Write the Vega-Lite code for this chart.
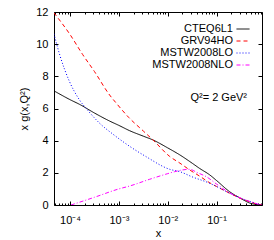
{
  "$schema": "https://vega.github.io/schema/vega-lite/v6.json",
  "width": 208,
  "height": 193,
  "autosize": {"type": "none"},
  "padding": {"left": 54, "top": 12, "right": 12, "bottom": 35},
  "config": {
    "font": "Liberation Sans",
    "view": {"stroke": "#000000", "strokeWidth": 1},
    "axis": {"domain": false, "grid": false, "labelFont": "Liberation Sans", "labelFontSize": 11, "labelColor": "#000000", "titleFont": "Liberation Sans", "titleFontSize": 11, "titleFontWeight": "normal", "titleColor": "#000000", "tickColor": "#000000", "tickWidth": 1, "labelFlush": false, "labelOverlap": false, "labelBound": false},
    "legend": {"labelFont": "Liberation Sans", "titleFont": "Liberation Sans"}
  },
  "data": {"values": [
    {"pdf": "CTEQ6L1", "x": 4.68e-5, "g": 7.1},
    {"pdf": "CTEQ6L1", "x": 1e-4, "g": 6.55},
    {"pdf": "CTEQ6L1", "x": 1.585e-4, "g": 6.25},
    {"pdf": "CTEQ6L1", "x": 3.162e-4, "g": 5.72},
    {"pdf": "CTEQ6L1", "x": 6.457e-4, "g": 5.22},
    {"pdf": "CTEQ6L1", "x": 1e-3, "g": 4.95},
    {"pdf": "CTEQ6L1", "x": 1.66e-3, "g": 4.62},
    {"pdf": "CTEQ6L1", "x": 3.162e-3, "g": 4.28},
    {"pdf": "CTEQ6L1", "x": 5.012e-3, "g": 4.04},
    {"pdf": "CTEQ6L1", "x": 0.01, "g": 3.55},
    {"pdf": "CTEQ6L1", "x": 0.01778, "g": 3.11},
    {"pdf": "CTEQ6L1", "x": 0.03162, "g": 2.6},
    {"pdf": "CTEQ6L1", "x": 0.04467, "g": 2.28},
    {"pdf": "CTEQ6L1", "x": 0.07244, "g": 1.87},
    {"pdf": "CTEQ6L1", "x": 0.1, "g": 1.52},
    {"pdf": "CTEQ6L1", "x": 0.1862, "g": 0.82},
    {"pdf": "CTEQ6L1", "x": 0.3162, "g": 0.4},
    {"pdf": "CTEQ6L1", "x": 0.4786, "g": 0.12},
    {"pdf": "CTEQ6L1", "x": 0.7079, "g": 0.02},
    {"pdf": "CTEQ6L1", "x": 0.85, "g": 0.0},
    {"pdf": "GRV94HO", "x": 4.68e-5, "g": 11.95},
    {"pdf": "GRV94HO", "x": 1e-4, "g": 10.6},
    {"pdf": "GRV94HO", "x": 1.82e-4, "g": 9.35},
    {"pdf": "GRV94HO", "x": 3.162e-4, "g": 8.3},
    {"pdf": "GRV94HO", "x": 6.457e-4, "g": 6.84},
    {"pdf": "GRV94HO", "x": 8.913e-4, "g": 6.32},
    {"pdf": "GRV94HO", "x": 1.585e-3, "g": 5.45},
    {"pdf": "GRV94HO", "x": 3.162e-3, "g": 4.6},
    {"pdf": "GRV94HO", "x": 5.012e-3, "g": 4.04},
    {"pdf": "GRV94HO", "x": 0.01096, "g": 3.02},
    {"pdf": "GRV94HO", "x": 0.01778, "g": 2.6},
    {"pdf": "GRV94HO", "x": 0.02818, "g": 2.18},
    {"pdf": "GRV94HO", "x": 0.04467, "g": 1.8},
    {"pdf": "GRV94HO", "x": 0.07244, "g": 1.38},
    {"pdf": "GRV94HO", "x": 0.1, "g": 1.15},
    {"pdf": "GRV94HO", "x": 0.1862, "g": 0.73},
    {"pdf": "GRV94HO", "x": 0.3162, "g": 0.4},
    {"pdf": "GRV94HO", "x": 0.5012, "g": 0.18},
    {"pdf": "GRV94HO", "x": 0.7079, "g": 0.04},
    {"pdf": "GRV94HO", "x": 0.85, "g": 0.0},
    {"pdf": "MSTW2008LO", "x": 4.68e-5, "g": 10.65},
    {"pdf": "MSTW2008LO", "x": 6.17e-5, "g": 9.33},
    {"pdf": "MSTW2008LO", "x": 9.77e-5, "g": 7.67},
    {"pdf": "MSTW2008LO", "x": 1.549e-4, "g": 6.55},
    {"pdf": "MSTW2008LO", "x": 2.291e-4, "g": 5.9},
    {"pdf": "MSTW2008LO", "x": 3.981e-4, "g": 5.1},
    {"pdf": "MSTW2008LO", "x": 7.586e-4, "g": 4.4},
    {"pdf": "MSTW2008LO", "x": 1.66e-3, "g": 3.65},
    {"pdf": "MSTW2008LO", "x": 3.631e-3, "g": 3.0},
    {"pdf": "MSTW2008LO", "x": 0.01096, "g": 2.22},
    {"pdf": "MSTW2008LO", "x": 0.01778, "g": 2.07},
    {"pdf": "MSTW2008LO", "x": 0.03162, "g": 1.75},
    {"pdf": "MSTW2008LO", "x": 0.07244, "g": 1.35},
    {"pdf": "MSTW2008LO", "x": 0.1, "g": 1.15},
    {"pdf": "MSTW2008LO", "x": 0.1862, "g": 0.73},
    {"pdf": "MSTW2008LO", "x": 0.3162, "g": 0.42},
    {"pdf": "MSTW2008LO", "x": 0.5012, "g": 0.2},
    {"pdf": "MSTW2008LO", "x": 0.7079, "g": 0.05},
    {"pdf": "MSTW2008LO", "x": 0.85, "g": 0.0},
    {"pdf": "MSTW2008NLO", "x": 1.047e-4, "g": 0.0},
    {"pdf": "MSTW2008NLO", "x": 3.162e-4, "g": 0.48},
    {"pdf": "MSTW2008NLO", "x": 1e-3, "g": 1.0},
    {"pdf": "MSTW2008NLO", "x": 1.66e-3, "g": 1.18},
    {"pdf": "MSTW2008NLO", "x": 4.266e-3, "g": 1.6},
    {"pdf": "MSTW2008NLO", "x": 0.01, "g": 1.95},
    {"pdf": "MSTW2008NLO", "x": 0.0138, "g": 2.07},
    {"pdf": "MSTW2008NLO", "x": 0.01995, "g": 2.18},
    {"pdf": "MSTW2008NLO", "x": 0.02818, "g": 2.22},
    {"pdf": "MSTW2008NLO", "x": 0.03981, "g": 2.02},
    {"pdf": "MSTW2008NLO", "x": 0.06166, "g": 1.76},
    {"pdf": "MSTW2008NLO", "x": 0.1, "g": 1.3},
    {"pdf": "MSTW2008NLO", "x": 0.1862, "g": 0.75},
    {"pdf": "MSTW2008NLO", "x": 0.3162, "g": 0.42},
    {"pdf": "MSTW2008NLO", "x": 0.5012, "g": 0.2},
    {"pdf": "MSTW2008NLO", "x": 0.7079, "g": 0.05},
    {"pdf": "MSTW2008NLO", "x": 0.85, "g": 0.0}
  ]},
  "layer": [
    {
      "mark": {"type": "line", "strokeWidth": 1, "interpolate": "monotone", "clip": true},
      "encoding": {
        "x": {"field": "x", "type": "quantitative",
          "scale": {"type": "log", "domain": [4.7e-5, 0.85], "nice": false},
          "axis": {"orient": "bottom", "title": "x", "titlePadding": 0,
            "values": [5e-5, 6e-5, 7e-5, 8e-5, 9e-5, 1e-4, 2e-4, 3e-4, 4e-4, 5e-4, 6e-4, 7e-4, 8e-4, 9e-4, 0.001, 0.002, 0.003, 0.004, 0.005, 0.006, 0.007, 0.008, 0.009, 0.01, 0.02, 0.03, 0.04, 0.05, 0.06, 0.07, 0.08, 0.09, 0.1, 0.2, 0.3, 0.4, 0.5, 0.6, 0.7, 0.8],
            "labelExpr": "datum.value == 1e-4 ? '10⁻⁴' : datum.value == 0.001 ? '10⁻³' : datum.value == 0.01 ? '10⁻²' : datum.value == 0.1 ? '10⁻¹' : ''",
            "tickSize": {"condition": {"test": "datum.value == 1e-4 || datum.value == 0.001 || datum.value == 0.01 || datum.value == 0.1", "value": -4}, "value": -2},
            "labelPadding": 13}},
        "y": {"field": "g", "type": "quantitative",
          "scale": {"domain": [0, 12], "nice": false},
          "axis": {"orient": "left", "title": "x g(x,Q²)", "titleX": -25, "values": [0, 2, 4, 6, 8, 10, 12], "tickSize": -4, "labelPadding": 10}},
        "color": {"field": "pdf", "type": "nominal",
          "scale": {"domain": ["CTEQ6L1", "GRV94HO", "MSTW2008LO", "MSTW2008NLO"], "range": ["#000000", "#ff0000", "#0000ff", "#ff00ff"]},
          "legend": {"title": "Q²= 2 GeV²", "orient": "top-right", "offset": 10, "padding": 0,
            "titleOrient": "bottom", "titleAnchor": "end", "titleFontSize": 11, "titleFontWeight": "normal", "titleColor": "#000000", "titlePadding": 22,
            "symbolType": "stroke", "symbolSize": 169, "symbolStrokeWidth": 1,
            "labelFontSize": 11, "labelColor": "#000000", "rowPadding": 0,
            "encode": {"labels": {"update": {"x": {"value": -3}, "align": {"value": "right"}}}, "title": {"update": {"dx": {"value": -5}}}}}},
        "strokeDash": {"field": "pdf", "type": "nominal",
          "scale": {"domain": ["CTEQ6L1", "GRV94HO", "MSTW2008LO", "MSTW2008NLO"], "range": [[1, 0], [4, 3], [1, 2], [4, 2, 1, 2]]},
          "legend": {"title": "Q²= 2 GeV²"}}
      }
    },
    {
      "mark": {"type": "point", "opacity": 0},
      "encoding": {
        "x": {"field": "x", "type": "quantitative",
          "axis": {"orient": "top", "title": null, "labels": false,
            "values": [5e-5, 6e-5, 7e-5, 8e-5, 9e-5, 1e-4, 2e-4, 3e-4, 4e-4, 5e-4, 6e-4, 7e-4, 8e-4, 9e-4, 0.001, 0.002, 0.003, 0.004, 0.005, 0.006, 0.007, 0.008, 0.009, 0.01, 0.02, 0.03, 0.04, 0.05, 0.06, 0.07, 0.08, 0.09, 0.1, 0.2, 0.3, 0.4, 0.5, 0.6, 0.7, 0.8],
            "tickSize": {"condition": {"test": "datum.value == 1e-4 || datum.value == 0.001 || datum.value == 0.01 || datum.value == 0.1", "value": -4}, "value": -2}}},
        "y": {"field": "g", "type": "quantitative",
          "axis": {"orient": "right", "title": null, "labels": false, "values": [0, 2, 4, 6, 8, 10, 12], "tickSize": -4}}
      }
    }
  ],
  "resolve": {"axis": {"x": "independent", "y": "independent"}}
}
